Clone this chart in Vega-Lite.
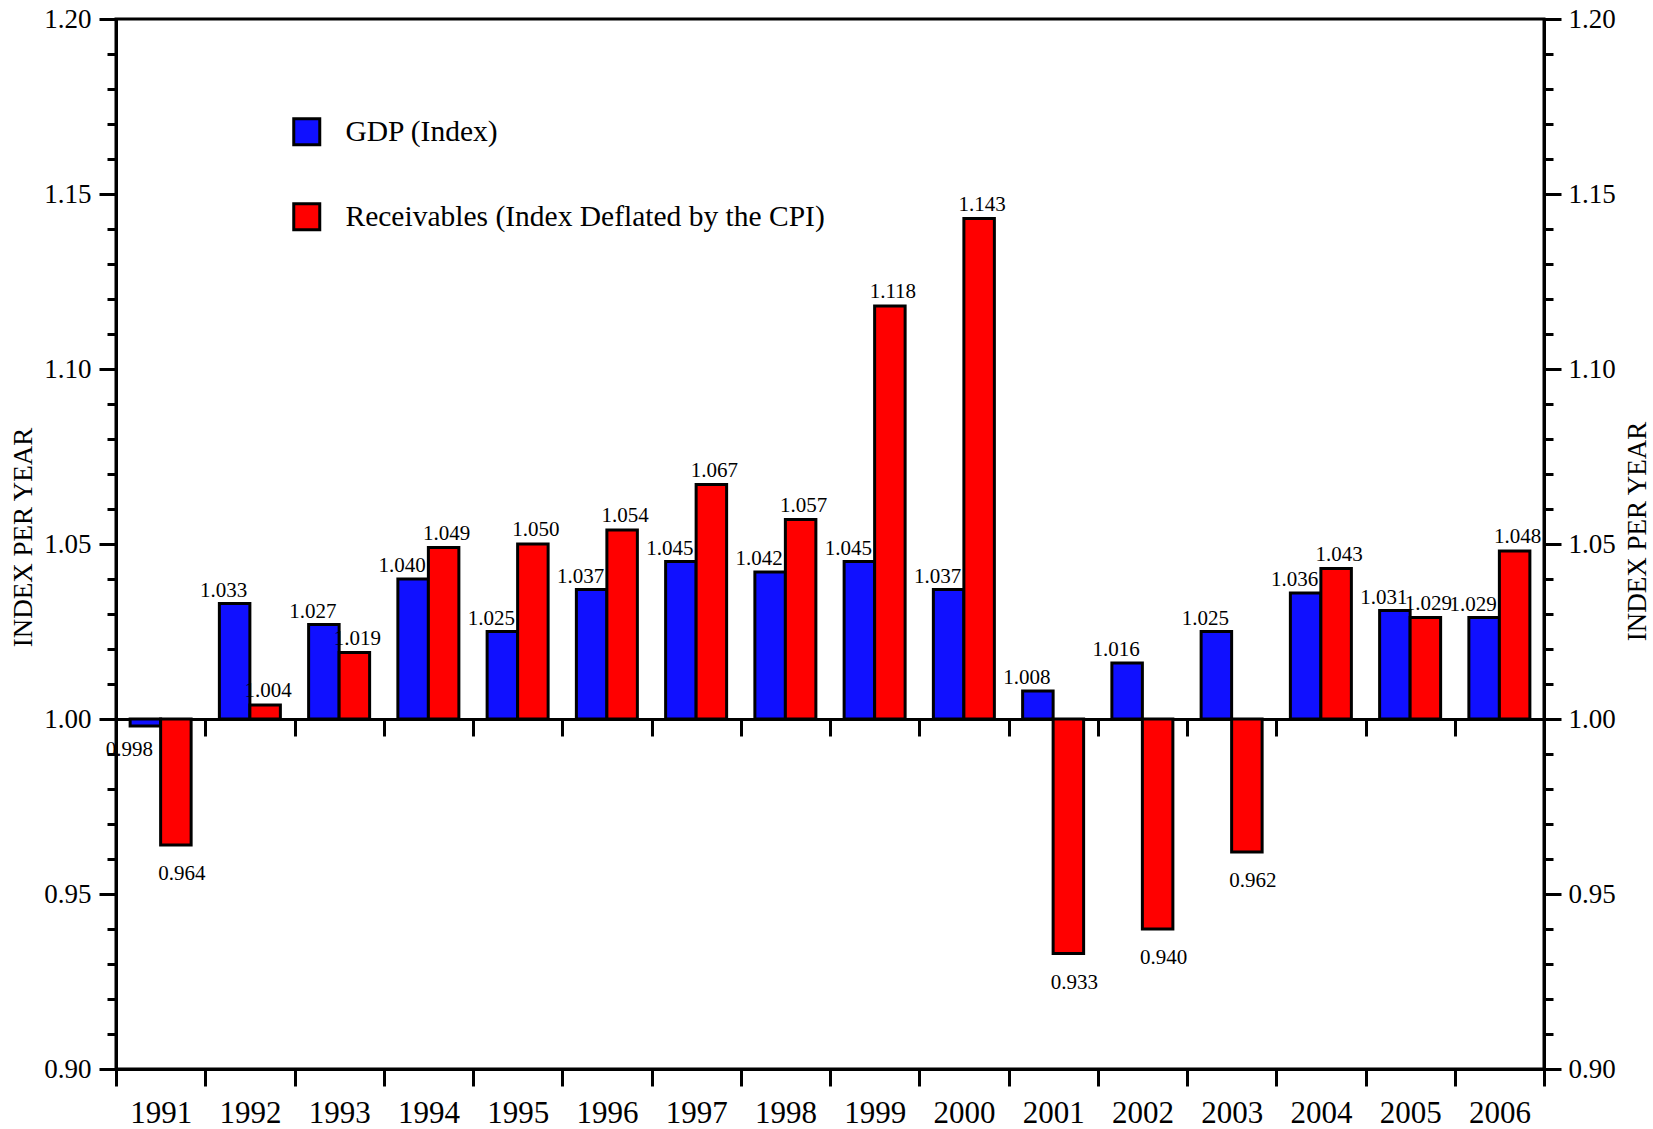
{
  "$schema": "https://vega.github.io/schema/vega-lite/v6.json",
  "width": 1428,
  "height": 1050,
  "autosize": {"type": "none"},
  "padding": {"left": 116, "top": 19, "right": 109, "bottom": 60},
  "background": "white",
  "config": {
    "view": {"stroke": "black", "strokeWidth": 3},
    "font": "Liberation Serif",
    "axis": {
      "labelFont": "Liberation Serif",
      "titleFont": "Liberation Serif",
      "domainColor": "black",
      "tickColor": "black",
      "domainWidth": 3,
      "tickWidth": 3,
      "labelColor": "black",
      "titleColor": "black",
      "grid": false,
      "titleFontWeight": "normal"
    }
  },
  "data": {
    "values": [
      {"year": "1991", "series": "GDP (Index)", "value": 0.998},
      {"year": "1992", "series": "GDP (Index)", "value": 1.033},
      {"year": "1993", "series": "GDP (Index)", "value": 1.027},
      {"year": "1994", "series": "GDP (Index)", "value": 1.040},
      {"year": "1995", "series": "GDP (Index)", "value": 1.025},
      {"year": "1996", "series": "GDP (Index)", "value": 1.037},
      {"year": "1997", "series": "GDP (Index)", "value": 1.045},
      {"year": "1998", "series": "GDP (Index)", "value": 1.042},
      {"year": "1999", "series": "GDP (Index)", "value": 1.045},
      {"year": "2000", "series": "GDP (Index)", "value": 1.037},
      {"year": "2001", "series": "GDP (Index)", "value": 1.008},
      {"year": "2002", "series": "GDP (Index)", "value": 1.016},
      {"year": "2003", "series": "GDP (Index)", "value": 1.025},
      {"year": "2004", "series": "GDP (Index)", "value": 1.036},
      {"year": "2005", "series": "GDP (Index)", "value": 1.031},
      {"year": "2006", "series": "GDP (Index)", "value": 1.029},
      {"year": "1991", "series": "Receivables (Index Deflated by the CPI)", "value": 0.964},
      {"year": "1992", "series": "Receivables (Index Deflated by the CPI)", "value": 1.004},
      {"year": "1993", "series": "Receivables (Index Deflated by the CPI)", "value": 1.019},
      {"year": "1994", "series": "Receivables (Index Deflated by the CPI)", "value": 1.049},
      {"year": "1995", "series": "Receivables (Index Deflated by the CPI)", "value": 1.050},
      {"year": "1996", "series": "Receivables (Index Deflated by the CPI)", "value": 1.054},
      {"year": "1997", "series": "Receivables (Index Deflated by the CPI)", "value": 1.067},
      {"year": "1998", "series": "Receivables (Index Deflated by the CPI)", "value": 1.057},
      {"year": "1999", "series": "Receivables (Index Deflated by the CPI)", "value": 1.118},
      {"year": "2000", "series": "Receivables (Index Deflated by the CPI)", "value": 1.143},
      {"year": "2001", "series": "Receivables (Index Deflated by the CPI)", "value": 0.933},
      {"year": "2002", "series": "Receivables (Index Deflated by the CPI)", "value": 0.940},
      {"year": "2003", "series": "Receivables (Index Deflated by the CPI)", "value": 0.962},
      {"year": "2004", "series": "Receivables (Index Deflated by the CPI)", "value": 1.043},
      {"year": "2005", "series": "Receivables (Index Deflated by the CPI)", "value": 1.029},
      {"year": "2006", "series": "Receivables (Index Deflated by the CPI)", "value": 1.048}
    ]
  },
  "layer": [
    {
      "mark": {"type": "bar", "stroke": "black", "strokeWidth": 3},
      "encoding": {
        "x": {
          "field": "year", "type": "ordinal",
          "scale": {"paddingInner": 0, "paddingOuter": 0},
          "axis": {"title": null, "orient": "bottom", "tickBand": "extent", "tickSize": 17, "labelFontSize": 31, "labelPadding": 12, "labelAngle": 0, "domain": true}
        },
        "xOffset": {"field": "series", "type": "nominal", "sort": ["GDP (Index)", "Receivables (Index Deflated by the CPI)"], "scale": {"paddingInner": 0, "paddingOuter": 0.463}},
        "y": {
          "field": "value", "type": "quantitative",
          "scale": {"domain": [0.9, 1.2], "zero": false, "nice": false},
          "axis": {
            "orient": "left", "values": [0.9, 0.95, 1, 1.05, 1.1, 1.15, 1.2], "format": ".2f",
            "tickSize": 17, "labelFontSize": 27, "labelPadding": 8, "domain": true,
            "title": "INDEX PER YEAR", "titleFontSize": 27, "titleAngle": 270,
            "titleX": -93, "titleY": 518, "titleAlign": "center", "titleBaseline": "middle"
          }
        },
        "y2": {"datum": 1},
        "fill": {
          "field": "series", "type": "nominal",
          "scale": {"domain": ["GDP (Index)", "Receivables (Index Deflated by the CPI)"], "range": ["#1010ff", "#ff0000"]},
          "legend": {
            "orient": "none", "legendX": 176, "legendY": 98, "title": null, "direction": "vertical",
            "symbolType": "square", "symbolSize": 676, "symbolStrokeColor": "black", "symbolStrokeWidth": 3,
            "labelFontSize": 29.5, "labelFont": "Liberation Serif", "labelColor": "black",
            "rowPadding": 46, "labelOffset": 24, "padding": 0, "labelLimit": 0
          }
        }
      }
    },
    {
      "transform": [{"filter": "datum.series == 'GDP (Index)' && datum.value >= 1"}],
      "mark": {"type": "text", "fontSize": 21, "font": "Liberation Serif", "baseline": "alphabetic", "dx": -11, "dy": -7, "color": "black"},
      "encoding": {
        "x": {"field": "year", "type": "ordinal", "scale": {"paddingInner": 0, "paddingOuter": 0}, "axis": null},
        "xOffset": {"field": "series", "type": "nominal", "sort": ["GDP (Index)", "Receivables (Index Deflated by the CPI)"], "scale": {"paddingInner": 0, "paddingOuter": 0.463}},
        "y": {"field": "value", "type": "quantitative", "scale": {"domain": [0.9, 1.2], "zero": false, "nice": false}, "axis": null},
        "text": {"field": "value", "type": "quantitative", "format": ".3f"}
      }
    },
    {
      "transform": [{"filter": "datum.series == 'GDP (Index)' && datum.value < 1"}],
      "mark": {"type": "text", "fontSize": 21, "font": "Liberation Serif", "baseline": "alphabetic", "dx": -16, "dy": 30, "color": "black"},
      "encoding": {
        "x": {"field": "year", "type": "ordinal", "scale": {"paddingInner": 0, "paddingOuter": 0}, "axis": null},
        "xOffset": {"field": "series", "type": "nominal", "sort": ["GDP (Index)", "Receivables (Index Deflated by the CPI)"], "scale": {"paddingInner": 0, "paddingOuter": 0.463}},
        "y": {"field": "value", "type": "quantitative", "scale": {"domain": [0.9, 1.2], "zero": false, "nice": false}, "axis": null},
        "text": {"field": "value", "type": "quantitative", "format": ".3f"}
      }
    },
    {
      "transform": [{"filter": "datum.series != 'GDP (Index)' && datum.value >= 1"}],
      "mark": {"type": "text", "fontSize": 21, "font": "Liberation Serif", "baseline": "alphabetic", "dx": 3, "dy": -8, "color": "black"},
      "encoding": {
        "x": {"field": "year", "type": "ordinal", "scale": {"paddingInner": 0, "paddingOuter": 0}, "axis": null},
        "xOffset": {"field": "series", "type": "nominal", "sort": ["GDP (Index)", "Receivables (Index Deflated by the CPI)"], "scale": {"paddingInner": 0, "paddingOuter": 0.463}},
        "y": {"field": "value", "type": "quantitative", "scale": {"domain": [0.9, 1.2], "zero": false, "nice": false}, "axis": null},
        "text": {"field": "value", "type": "quantitative", "format": ".3f"}
      }
    },
    {
      "transform": [{"filter": "datum.series != 'GDP (Index)' && datum.value < 1"}],
      "mark": {"type": "text", "fontSize": 21, "font": "Liberation Serif", "baseline": "alphabetic", "dx": 6, "dy": 35, "color": "black"},
      "encoding": {
        "x": {"field": "year", "type": "ordinal", "scale": {"paddingInner": 0, "paddingOuter": 0}, "axis": null},
        "xOffset": {"field": "series", "type": "nominal", "sort": ["GDP (Index)", "Receivables (Index Deflated by the CPI)"], "scale": {"paddingInner": 0, "paddingOuter": 0.463}},
        "y": {"field": "value", "type": "quantitative", "scale": {"domain": [0.9, 1.2], "zero": false, "nice": false}, "axis": null},
        "text": {"field": "value", "type": "quantitative", "format": ".3f"}
      }
    },
    {
      "mark": {"type": "point", "opacity": 0},
      "encoding": {
        "x": {
          "field": "year", "type": "ordinal", "scale": {"paddingInner": 0, "paddingOuter": 0},
          "axis": {"title": null, "orient": "bottom", "offset": -350, "tickBand": "extent", "tickSize": 17, "labels": false, "domain": true}
        },
        "y": {
          "field": "value", "type": "quantitative", "scale": {"domain": [0.9, 1.2], "zero": false, "nice": false},
          "axis": {"orient": "left", "title": null, "labels": false, "domain": false, "tickSize": 9,
            "values": [0.91, 0.92, 0.93, 0.94, 0.96, 0.97, 0.98, 0.99, 1.01, 1.02, 1.03, 1.04, 1.06, 1.07, 1.08, 1.09, 1.11, 1.12, 1.13, 1.14, 1.16, 1.17, 1.18, 1.19]}
        }
      }
    },
    {
      "mark": {"type": "point", "opacity": 0},
      "encoding": {
        "y": {
          "field": "value", "type": "quantitative", "scale": {"domain": [0.9, 1.2], "zero": false, "nice": false},
          "axis": {
            "orient": "right", "values": [0.9, 0.95, 1, 1.05, 1.1, 1.15, 1.2], "format": ".2f",
            "tickSize": 17, "labelFontSize": 27, "labelPadding": 7, "domain": true,
            "title": "INDEX PER YEAR", "titleFontSize": 27, "titleAngle": 270,
            "titleX": 93, "titleY": 512, "titleAlign": "center", "titleBaseline": "middle"
          }
        }
      }
    },
    {
      "mark": {"type": "point", "opacity": 0},
      "encoding": {
        "y": {
          "field": "value", "type": "quantitative", "scale": {"domain": [0.9, 1.2], "zero": false, "nice": false},
          "axis": {"orient": "right", "title": null, "labels": false, "domain": false, "tickSize": 9,
            "values": [0.91, 0.92, 0.93, 0.94, 0.96, 0.97, 0.98, 0.99, 1.01, 1.02, 1.03, 1.04, 1.06, 1.07, 1.08, 1.09, 1.11, 1.12, 1.13, 1.14, 1.16, 1.17, 1.18, 1.19]}
        }
      }
    }
  ],
  "resolve": {"axis": {"x": "independent", "y": "independent"}}
}
